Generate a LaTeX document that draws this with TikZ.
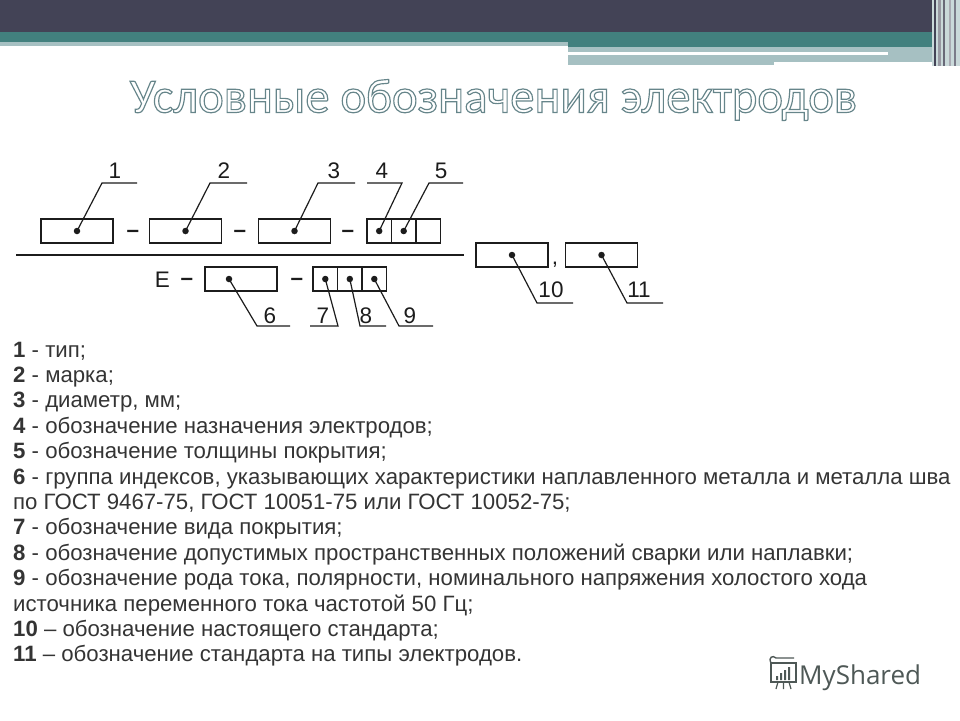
\documentclass[tikz,border=0pt]{standalone}
\usepackage{fontspec}
\setmainfont{Liberation Sans}
\newfontfamily\titlefont[FakeBold=2.4]{Carlito}
\newfontfamily\logofont{Open Sans}
\usetikzlibrary{positioning}
\definecolor{headdark}{RGB}{67,67,86}
\definecolor{headteal}{RGB}{66,128,126}
\definecolor{headlight}{RGB}{166,192,194}
\definecolor{ink}{RGB}{28,28,28}
\definecolor{txt}{RGB}{52,52,52}
\definecolor{logogrey}{RGB}{78,88,86}
\newcommand{\band}[5]{\fill[#5] ( #1 , #2 ) rectangle ( #3 , #4 );}
\newcommand{\legendline}[4]{\node[legend] (#1) at (13, #2 ) {\textbf{#3}#4};}
\newcommand{\outlinestroke}{\special{pdf:code 0.40 0.52 0.54 RG}}

\begin{document}
\begin{tikzpicture}[x=1pt,y=-1pt,
    field/.style={draw=ink, line width=1.8pt, minimum width=72pt, minimum height=24pt, inner sep=0pt, outer sep=0pt},
    slot/.style={draw=ink, line width=1.8pt, minimum width=24.5pt, minimum height=24pt, inner sep=0pt, outer sep=0pt},
    dot/.style={circle, fill=ink, inner sep=0pt, minimum size=6.5pt},
    leader/.style={draw=ink, line width=1.2pt},
    num/.style={font=\fontsize{22.5}{22.5}\selectfont, text=ink, inner sep=0pt, anchor=base},
    legend/.style={font=\fontsize{22.2}{24}\selectfont, text=txt, inner sep=0pt, anchor=base west}]
        \useasboundingbox (0,0) rectangle (960,720);
        % header
        \band{0}{0}{932}{32}{headdark}
        \band{0}{32}{932}{42}{headteal}
        \band{0}{42}{568}{46}{headlight}
        \band{568}{42}{932}{47}{headteal}
        \band{568}{47}{932}{65}{headlight}
        \band{774}{62}{932}{65}{white}
        \band{568}{52}{888}{54.5}{white}
        % stripes right
        \band{932}{0}{960}{66}{headlight!60!white}
        \band{934}{0}{936}{66}{headdark}
        \band{938}{0}{941}{66}{headdark!55!white}
        \band{943}{0}{945}{66}{headdark!80!white}
        \band{949}{0}{951}{66}{headdark!45!white}
        \band{954}{0}{955.5}{66}{headdark!70!white}
        % title
        \node[font=\titlefont\fontsize{48.6}{48.6}\selectfont, text=white, inner sep=0pt, anchor=base] (title) at (493.5,112.5)
            {\outlinestroke Условные обозначения электродов};
        % row1
        \node[field] (f1) at (77,231) {};
        \node[field] (f2) at (185.5,231) {};
        \node[field] (f3) at (294.5,231) {};
        \node[slot] (s4) at (379.2,231) {};
        \node[slot, right=0pt of s4] (s5) {};
        \node[slot, right=0pt of s5] (sx) {};
        \node[num, font=\fontsize{22.5}{22.5}\selectfont\bfseries] (m1) at (133,237.2) {–};
        \node[num, font=\fontsize{22.5}{22.5}\selectfont\bfseries] (m2) at (240,237.2) {–};
        \node[num, font=\fontsize{22.5}{22.5}\selectfont\bfseries] (m3) at (348,237.2) {–};
        % fraction line
        \coordinate (bl) at (16,255);
        \coordinate (br) at (464,255);
        \draw[ink, line width=1.8pt] (bl) -- (br);
        % row2
        \node[num] (E) at (162.5,287) {E};
        \node[num, font=\fontsize{22.5}{22.5}\selectfont\bfseries] (m4) at (187,285.2) {–};
        \node[field] (f6) at (241,279) {};
        \node[num, font=\fontsize{22.5}{22.5}\selectfont\bfseries] (m5) at (297,285.2) {–};
        \node[slot] (s7) at (325.3,279) {};
        \node[slot, right=0pt of s7] (s8) {};
        \node[slot, right=0pt of s8] (s9) {};
        % standards
        \node[field] (f10) at (512,255) {};
        \node[num] (comma) at (555,264) {,};
        \node[field] (f11) at (601.5,255) {};
        % dots
        \node[dot] (p1) at (f1.center) {};
        \node[dot] (p2) at (f2.center) {};
        \node[dot] (p3) at (f3.center) {};
        \node[dot] (p4) at (s4.center) {};
        \node[dot] (p5) at (s5.center) {};
        \node[dot] (p6) at (229,279) {};
        \node[dot] (p7) at (s7.center) {};
        \node[dot] (p8) at (s8.center) {};
        \node[dot] (p9) at (s9.center) {};
        \node[dot] (p10) at (f10.center) {};
        \node[dot] (p11) at (f11.center) {};
        % leaders top
        \coordinate (k1) at (102,183); \coordinate (e1) at (137,183);
        \coordinate (k2) at (210,183); \coordinate (e2) at (247,183);
        \coordinate (k3) at (318,183); \coordinate (e3) at (355,183);
        \coordinate (k4) at (402,183); \coordinate (e4) at (367,183);
        \coordinate (k5) at (429,183); \coordinate (e5) at (463,183);
        \draw[leader] (p1.center) -- (k1) -- (e1);
        \draw[leader] (p2.center) -- (k2) -- (e2);
        \draw[leader] (p3.center) -- (k3) -- (e3);
        \draw[leader] (p4.center) -- (k4) -- (e4);
        \draw[leader] (p5.center) -- (k5) -- (e5);
        % leaders bottom
        \coordinate (k6) at (257,326); \coordinate (e6) at (290,326);
        \coordinate (k7) at (338,326); \coordinate (e7) at (310,326);
        \coordinate (k8) at (360,326); \coordinate (e8) at (386,326);
        \coordinate (k9) at (399,326); \coordinate (e9) at (433,326);
        \coordinate (k10) at (537,303); \coordinate (e10) at (573,303);
        \coordinate (k11) at (627,303); \coordinate (e11) at (663,303);
        \draw[leader] (p6.center) -- (k6) -- (e6);
        \draw[leader] (p7.center) -- (k7) -- (e7);
        \draw[leader] (p8.center) -- (k8) -- (e8);
        \draw[leader] (p9.center) -- (k9) -- (e9);
        \draw[leader] (p10.center) -- (k10) -- (e10);
        \draw[leader] (p11.center) -- (k11) -- (e11);
        % numbers
        \node[num] (n1) at (115,178) {1};
        \node[num] (n2) at (224,178) {2};
        \node[num] (n3) at (334,178) {3};
        \node[num] (n4) at (382,178) {4};
        \node[num] (n5) at (441,178) {5};
        \node[num] (n6) at (270,323) {6};
        \node[num] (n7) at (323,323) {7};
        \node[num] (n8) at (366,323) {8};
        \node[num] (n9) at (410,323) {9};
        \node[num] (n10) at (551,297) {10};
        \node[num] (n11) at (639,297) {11};
        % legend
        \legendline{t1}{357}{1}{ - тип;}
        \legendline{t2}{382.4}{2}{ - марка;}
        \legendline{t3}{407.8}{3}{ - диаметр, мм;}
        \legendline{t4}{433.2}{4}{ - обозначение назначения электродов;}
        \legendline{t5}{458.6}{5}{ - обозначение толщины покрытия;}
        \legendline{t6}{484}{6}{ - группа индексов, указывающих характеристики наплавленного металла и металла шва}
        \legendline{t6b}{509.4}{}{по ГОСТ 9467-75, ГОСТ 10051-75 или ГОСТ 10052-75;}
        \legendline{t7}{534.8}{7}{ - обозначение вида покрытия;}
        \legendline{t8}{560.2}{8}{ - обозначение допустимых пространственных положений сварки или наплавки;}
        \legendline{t9}{585.6}{9}{ - обозначение рода тока, полярности, номинального напряжения холостого хода}
        \legendline{t9b}{611}{}{источника переменного тока частотой 50 Гц;}
        \legendline{t10}{636.4}{10}{ – обозначение настоящего стандарта;}
        \legendline{t11}{661.8}{11}{ – обозначение стандарта на типы электродов.}
        % logo
        \draw[logogrey, line width=1.6pt] (771,663) rectangle (796,682);
        \draw[logogrey, line width=1.4pt] (771,663) .. controls (768,657) and (773,655) .. (776,658) -- (794,658);
        \fill[logogrey] (776,676) rectangle (778,680) (780,673) rectangle (782,680) (784,670) rectangle (786,680) (788,667) rectangle (790,680);
        \draw[logogrey, line width=1.2pt] (778,682) -- (776,689) (783.5,682) -- (783.5,689) (789,682) -- (791,689);
        \node[font=\logofont\fontsize{26}{26}\selectfont, text=logogrey, inner sep=0pt, anchor=base west] (logo) at (799,684) {MyShared};
\end{tikzpicture}
\end{document}
